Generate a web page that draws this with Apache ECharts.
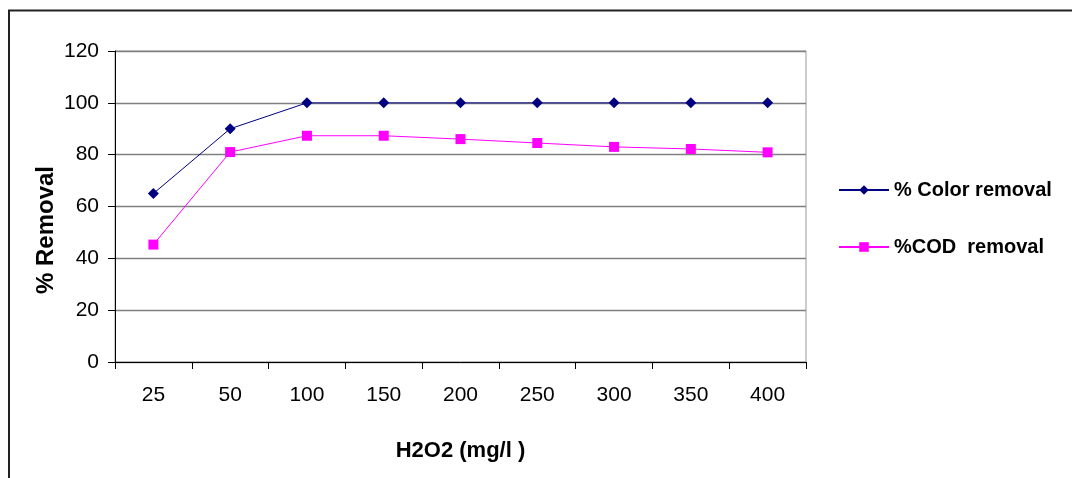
<!DOCTYPE html>
<html>
<head>
<meta charset="utf-8">
<script src="https://cdn.jsdelivr.net/npm/echarts@6/dist/echarts.min.js"></script>
<style>html,body{margin:0;padding:0;background:#fff;}#c{width:1072px;height:478px;}</style>
</head>
<body>
<div id="c"></div>
<script>
const categories = ['25','50','100','150','200','250','300','350','400'];
const colorRemoval = [65, 90, 100, 100, 100, 100, 100, 100, 100];
const codRemoval = [45.3, 81, 87.3, 87.3, 86, 84.5, 83, 82.2, 80.9];
const yTicks = {min: 0, max: 120, interval: 20};
const seriesNames = ['% Color removal', '%COD  removal'];
const yTitle = '% Removal';
const xTitle = 'H2O2 (mg/l )';

const chart = echarts.init(document.getElementById('c'), null, {renderer: 'canvas'});
const font = 'Liberation Sans, Arial, sans-serif';
chart.setOption({
  animation: false,
  backgroundColor: '#fff',
  graphic: [{
    type: 'rect', shape: {x: 9, y: 10.5, width: 1100, height: 500},
    style: {fill: 'none', stroke: '#222', lineWidth: 2}, silent: true
  }, {
    type: 'text', x: 46, y: 230, rotation: Math.PI / 2, silent: true,
    style: {text: yTitle, fontFamily: font, fontSize: 24, fontWeight: 'bold', fill: '#000',
            align: 'center', verticalAlign: 'middle'}
  }],
  grid: {left: 115, right: 266, top: 51, bottom: 116, show: true, borderColor: '#999', borderWidth: 1, backgroundColor: '#fff'},
  legend: {
    orient: 'vertical', left: 833, top: 175, itemGap: 37, itemWidth: 50, itemHeight: 12,
    textStyle: {fontFamily: font, fontSize: 20, fontWeight: 'bold', color: '#000'},
    data: seriesNames
  },
  xAxis: {
    type: 'category', data: categories, boundaryGap: true,
    name: xTitle, nameLocation: 'middle', nameGap: 78,
    nameTextStyle: {fontFamily: font, fontSize: 22, fontWeight: 'bold', color: '#000'},
    axisLine: {lineStyle: {color: '#000', width: 1}},
    axisTick: {show: true, length: 7, lineStyle: {color: '#000'}},
    axisLabel: {fontFamily: font, fontSize: 21, color: '#000', margin: 23},
    splitLine: {show: false}
  },
  yAxis: {
    type: 'value', min: yTicks.min, max: yTicks.max, interval: yTicks.interval,
    axisLine: {show: true, lineStyle: {color: '#000', width: 1}},
    axisTick: {show: true, length: 7, lineStyle: {color: '#000'}},
    axisLabel: {fontFamily: font, fontSize: 21, color: '#000', margin: 16},
    splitLine: {show: true, lineStyle: {color: '#808080', width: 1.3}}
  },
  series: [{
    name: seriesNames[0], type: 'line', data: colorRemoval,
    symbol: 'diamond', symbolSize: 11,
    lineStyle: {color: '#000080', width: 1}, itemStyle: {color: '#000080'}
  }, {
    name: seriesNames[1], type: 'line', data: codRemoval,
    symbol: 'rect', symbolSize: 10,
    lineStyle: {color: '#FF00FF', width: 1}, itemStyle: {color: '#FF00FF'}
  }]
});
</script>
</body>
</html>
